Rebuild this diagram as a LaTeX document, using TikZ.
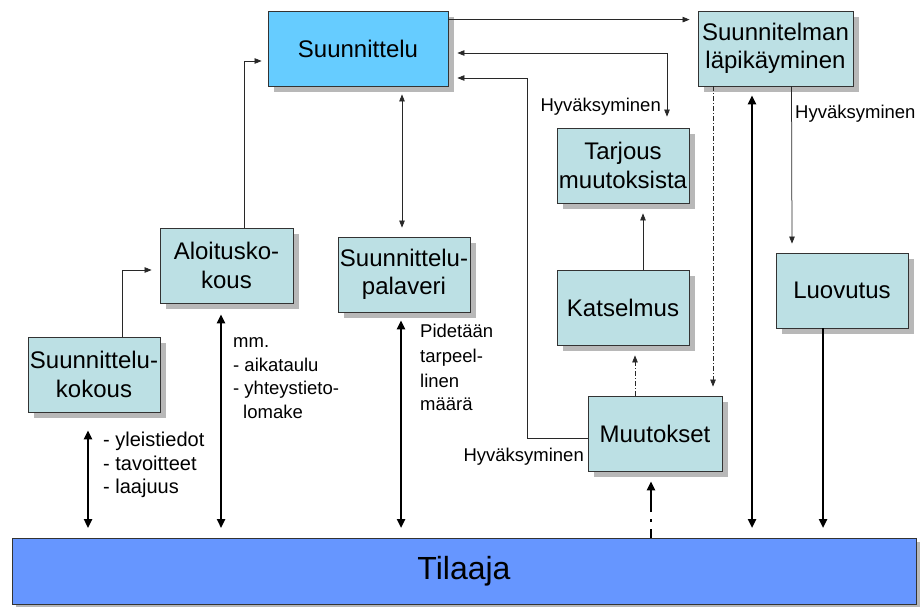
\documentclass[tikz,border=0pt]{standalone}
\usepackage{fontspec}
\setmainfont{Liberation Sans}
\usetikzlibrary{arrows.meta,shadows}
\definecolor{sblue}{RGB}{102,204,255}
\definecolor{teal1}{RGB}{188,224,228}
\definecolor{tblue}{RGB}{102,150,255}
\definecolor{lnc}{RGB}{40,40,40}
\tikzset{
  box/.style={draw=black!80, line width=0.8pt, fill=teal1, rectangle, align=center,
    inner sep=1pt, minimum width=132pt, minimum height=75pt,
    font=\fontsize{24}{28.5}\selectfont,
    general shadow={fill=black!28, shadow xshift=6pt, shadow yshift=-6pt}},
  lbl/.style={font=\fontsize{18.5}{24}\selectfont, inner sep=0pt, anchor=base west},
  lblbig/.style={lbl, font=\fontsize{20}{24}\selectfont},
  thinarr/.style={draw=lnc, line width=0.75pt, -{Triangle[length=7pt,width=5.5pt]}},
  thinboth/.style={draw=lnc, line width=0.75pt, {Triangle[length=7pt,width=5.5pt]}-{Triangle[length=7pt,width=5.5pt]}},
  dashdot/.style={dash pattern=on 5pt off 2pt on 1pt off 2pt},
  bigarr/.style={draw=black, line width=2.6pt, -{Triangle[length=9pt,width=8pt]}},
  bigboth/.style={draw=black, line width=2.6pt, {Triangle[length=9pt,width=8pt]}-{Triangle[length=9pt,width=8pt]}},
}
\begin{document}
\begin{tikzpicture}[x=1pt,y=-1pt]
\useasboundingbox (0,0) rectangle (920,606);
% boxes
\node[box, fill=sblue, minimum width=180pt] (S) at (358,48.5) {Suunnittelu};
\node[box, minimum width=155pt] (L) at (775.5,48.5) {Suunnitelman\\läpikäyminen};
\node[box] (T) at (623,165.5) {Tarjous\\muutoksista};
\node[box] (K) at (623,307.5) {Katselmus};
\node[box, minimum width=134pt] (M) at (655,433.5) {Muutokset};
\node[box] (Lu) at (842,290.5) {Luovutus};
\node[box, minimum width=133pt] (A) at (226.5,265.5) {Aloitusko-\\kous};
\node[box] (P) at (404,274.5) {Suunnittelu-\\palaveri};
\node[box] (SK) at (94,374.5) {Suunnittelu-\\kokous};
\node[box, fill=tblue, minimum width=904pt, minimum height=66pt,
  general shadow={fill=black!28, shadow xshift=4pt, shadow yshift=-4pt},
  font=\fontsize{32}{36}\selectfont] (Ti) at (464,571) {Tilaaja};

% coordinates for free ends
\coordinate (c2b) at ([xshift=44pt,yshift=11pt]T.north);
\coordinate (c3top) at (527,78);
\coordinate (e1) at (88,528);
\coordinate (e2) at (221,528);
\coordinate (e3) at (401,528);
\coordinate (e4) at (752,528);
\coordinate (e5) at (823,528);
\coordinate (e6) at (651,538);

% thin connectors
\draw[thinarr] ([yshift=-9pt]S.north east) -- ([xshift=-8pt,yshift=-9pt]L.north west);
\draw[thinboth] ([xshift=9pt,yshift=-4.5pt]S.east) -| (c2b);
\draw[thinarr] ([yshift=-4.5pt]M.west) -| (c3top) -- ([xshift=9pt]S.east |- c3top);
\draw[thinarr] ([xshift=17.5pt]A.north) |- ([xshift=-6pt,yshift=-12.5pt]S.west);
\draw[thinboth] ([xshift=44pt,yshift=-8pt]S.south) -- ([xshift=-2pt,yshift=9pt]P.north);
\draw[thinarr] ([xshift=28pt]SK.north) |- ([xshift=-8pt,yshift=-4.5pt]A.west);
\draw[thinarr] ([xshift=20pt]K.north) -- ([xshift=20pt,yshift=-10pt]T.south);
\draw[thinarr] ([xshift=16pt]L.south) -- ([xshift=-50pt,yshift=9pt]Lu.north);
\draw[thinarr, dashdot] ([xshift=-62.5pt]L.south) -- ([xshift=58pt,yshift=9pt]M.north);
\draw[thinarr, dashdot] ([xshift=-20pt]M.north) -- ([xshift=12pt,yshift=-10pt]K.south);

% thick connectors
\draw[bigboth] ([xshift=-6pt,yshift=-18pt]SK.south) -- (e1);
\draw[bigboth] ([xshift=-5.5pt,yshift=-11pt]A.south) -- (e2);
\draw[bigboth] ([xshift=-3pt,yshift=-8pt]P.south) -- (e3);
\draw[bigboth] ([xshift=-23.5pt,yshift=-9pt]L.south) -- (e4);
\draw[bigarr] ([xshift=-19pt]Lu.south) -- (e5);
\draw[bigarr, dash pattern=on 9pt off 7pt on 3pt off 7pt on 30pt] (e6) -- ([xshift=-4pt,yshift=-10pt]M.south);

% labels
\node[lbl, anchor=base east] (h1) at (661,111) {Hyväksyminen};
\node[lbl] (h2) at (795,118) {Hyväksyminen};
\node[lbl, anchor=base east] (h3) at (584,461) {Hyväksyminen};
\node[lblbig] (y1) at (103,446) {- yleistiedot};
\node[lblbig] (y2) at (103,470) {- tavoitteet};
\node[lblbig] (y3) at (103,493) {- laajuus};
\node[lbl] (m1) at (233,347) {mm.};
\node[lbl] (m2) at (233,371) {- aikataulu};
\node[lbl] (m3) at (233,394) {- yhteystieto-};
\node[lbl] (m4) at (243,418) {lomake};
\node[lbl] (p1) at (420,337) {Pidetään};
\node[lbl] (p2) at (420,362) {tarpeel-};
\node[lbl] (p3) at (420,387) {linen};
\node[lbl] (p4) at (420,410) {määrä};
\end{tikzpicture}
\end{document}
